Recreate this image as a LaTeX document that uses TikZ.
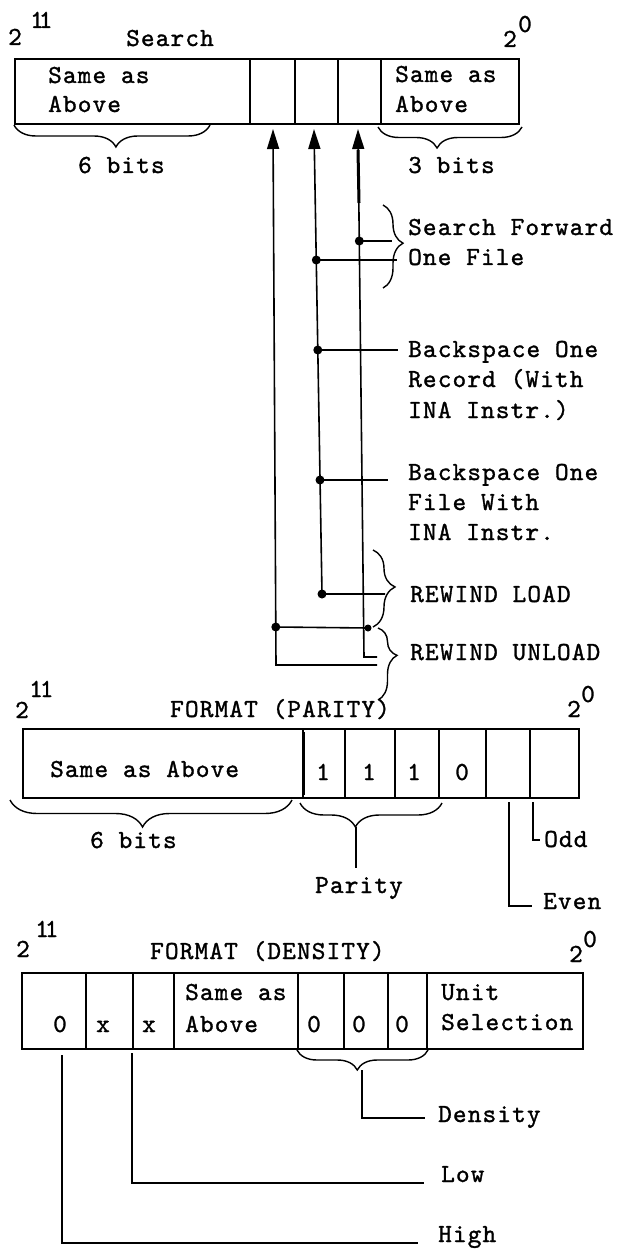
\documentclass[tikz,border=0pt]{standalone}
\usepackage{fontspec}
\newfontfamily\tw{lmmono10-regular.otf}[LetterSpace=4.4, RawFeature={embolden=1.2}]
\usetikzlibrary{decorations.pathreplacing,arrows.meta}
\begin{document}
\begin{tikzpicture}[x=1pt,y=-1pt,
  ln/.style={line width=1.6pt},
  cell/.style={draw, line width=1.6pt, inner sep=0pt, anchor=north west},
  txt/.style={inner sep=0pt, anchor=base west, font=\tw\fontsize{26}{30}\selectfont},
  ctxt/.style={txt, anchor=base},
  dot/.style={circle, fill, inner sep=0pt, minimum size=9pt},
  ubrace/.style 2 args={decorate, decoration={brace, mirror, amplitude=#1, aspect=#2}, line width=1.4pt},
  rbrace/.style 2 args={decorate, decoration={brace, amplitude=#1, aspect=#2}, line width=1.4pt},
  tip/.style={ln, {Triangle[length=20pt,width=12pt]}-}
]
\useasboundingbox (0,0) rectangle (632,1249);

% ---------------- Search register ----------------
\node[txt] (s2a) at (8,45) {2};
\node[txt] (s11) at (30,28) {1\kern-5pt1};
\node[txt] (stitle) at (126,46) {Search};
\node[txt] (s2b) at (503,47) {2};
\node[txt] (s0) at (518,32) {0};

\node[cell, minimum width=235pt, minimum height=65pt] (t1) at (14,58) {};
\node[cell, minimum width=45pt, minimum height=65pt] (t2) at (249,58) {};
\node[cell, minimum width=43pt, minimum height=65pt] (t3) at (294,58) {};
\node[cell, minimum width=43pt, minimum height=65pt] (t4) at (337,58) {};
\node[cell, minimum width=138pt, minimum height=65pt] (t5) at (380,58) {};

\node[txt] (ta1) at (48,83) {Same as};
\node[txt] (ta2) at (48,112) {Above};
\node[txt] (tb1) at (395,82) {Same as};
\node[txt] (tb2) at (395,112) {Above};

\draw[ubrace={22pt}{0.52}] (14,125) -- (210,125);
\draw[ubrace={21pt}{0.41}] (378,127) -- (522,127);
\node[txt] (six1) at (78,173) {6 bits};
\node[txt] (three) at (408,173) {3 bits};

% vertical connectors
\coordinate (l1t) at (273,129); \coordinate (l1b) at (276,665); \coordinate (l1e) at (377,665);
\coordinate (l2t) at (314,129); \coordinate (l2b) at (322,594); \coordinate (l2e) at (385,594);
\coordinate (l3t) at (358,129); \coordinate (l3b) at (364,657); \coordinate (l3e) at (377,657);
\coordinate (l3k1) at (358,150); \coordinate (l3k2) at (359,203);

\draw[tip] (l1t) -- (l1b) -- (l1e);
\draw[tip] (l2t) -- (l2b) -- (l2e);
\draw[tip] (l3t) -- (l3b) -- (l3e);
\draw[line width=3pt] (l3k1) -- (l3k2);

% taps
\node[dot] (d3a) at (359.3,241) {}; \coordinate (e3a) at (392,241);
\node[dot] (d2a) at (316.3,260) {}; \coordinate (e2a) at (397,260);
\node[dot] (d2b) at (317.8,350) {}; \coordinate (e2b) at (398,350);
\node[dot] (d2c) at (320,480) {};   \coordinate (e2c) at (388,480);
\node[dot] (d2d) at (l2b) {};
\node[dot] (d1a) at (275.8,627) {};
\node[dot, minimum size=7pt] (d3b) at (368,628) {};
\draw[ln] (d3a.center) -- (e3a);
\draw[ln] (d2a.center) -- (e2a);
\draw[ln] (d2b.center) -- (e2b);
\draw[ln] (d2c.center) -- (e2c);
\draw[ln] (d1a.center) -- (d3b.center);

% braces and labels on the right
\draw[rbrace={20pt}{0.46}] (383,205) -- (383,288);
\node[txt] (sf1) at (408,235) {Search Forward};
\node[txt] (sf2) at (408,265) {One File};

\node[txt] (br1) at (408,357) {Backspace One};
\node[txt] (br2) at (408,387) {Record (With};
\node[txt] (br3) at (408,418) {INA Instr.)};

\node[txt] (bf1) at (408,480) {Backspace One};
\node[txt] (bf2) at (408,510) {File With};
\node[txt] (bf3) at (408,540) {INA Instr.};

\draw[rbrace={22pt}{0.48}] (373,550) -- (373,627);
\node[txt] (rl) at (410,602) {REWIND LOAD};
\draw[rbrace={19pt}{0.38}] (378,628) -- (378,700);
\node[txt] (ru) at (410,660) {REWIND UNLOAD};

% ---------------- Format (parity) ----------------
\node[txt] (p2a) at (15,718) {2};
\node[txt] (p11) at (29,697) {1\kern-3pt1};
\node[txt] (ptitle) at (170,717) {FORMAT (PARITY)};
\node[txt] (p2b) at (567,717) {2};
\node[txt] (p0) at (581,702) {0};

\node[cell, minimum width=280pt, minimum height=69pt] (p1) at (22,728) {};
\node[cell, minimum width=42pt, minimum height=69pt] (p2) at (302,728) {};
\node[cell, minimum width=50pt, minimum height=69pt] (p3) at (344,728) {};
\node[cell, minimum width=44pt, minimum height=69pt] (p4) at (394,728) {};
\node[cell, minimum width=47pt, minimum height=69pt] (p5) at (438,728) {};
\node[cell, minimum width=44pt, minimum height=69pt] (p6) at (485,728) {};
\node[cell, minimum width=49pt, minimum height=69pt] (p7) at (529,728) {};
\draw[line width=3pt] ([yshift=-4pt]p1.north east) -- ([yshift=4pt]p1.south east);

\node[txt] (psame) at (50,777) {Same as Above};
\node[ctxt] (pb1) at (323,780) {1};
\node[ctxt] (pb2) at (369,780) {1};
\node[ctxt] (pb3) at (414,780) {1};
\node[ctxt] (pb4) at (462,780) {0};

\draw[ubrace={27pt}{0.47}] (10,800) -- (292,800);
\node[txt] (six2) at (90,848) {6 bits};
\draw[ubrace={24pt}{0.39}] (300,803) -- (442,803);
\coordinate (pbt) at (356,827); \coordinate (pbe) at (356,868);
\draw[ln] (pbt) -- (pbe);
\node[txt] (parity) at (315,893) {Parity};

\coordinate (odd0) at (533,802); \coordinate (odd1) at (533,840); \coordinate (odd2) at (540,840);
\draw[ln] (odd0) -- (odd1) -- (odd2);
\node[txt] (odd) at (544,847) {Odd};
\coordinate (ev0) at (509,802); \coordinate (ev1) at (509,906); \coordinate (ev2) at (532,906);
\draw[ln] (ev0) -- (ev1) -- (ev2);
\node[txt] (even) at (543,909) {Even};

% ---------------- Format (density) ----------------
\node[txt] (q2a) at (16,957) {2};
\node[txt] (q11) at (35,937) {1\kern-4pt1};
\node[txt] (qtitle) at (150,959) {FORMAT (DENSITY)};
\node[txt] (q2b) at (569,962) {2};
\node[txt] (q0) at (583,947) {0};

\node[cell, minimum width=64pt, minimum height=76pt] (q1) at (21,972) {};
\node[cell, minimum width=47pt, minimum height=76pt] (q2) at (85,972) {};
\node[cell, minimum width=41pt, minimum height=76pt] (q3) at (132,972) {};
\node[cell, minimum width=124pt, minimum height=76pt] (q4) at (173,972) {};
\node[cell, minimum width=46pt, minimum height=76pt] (q5) at (297,972) {};
\node[cell, minimum width=44pt, minimum height=76pt] (q6) at (343,972) {};
\node[cell, minimum width=39pt, minimum height=76pt] (q7) at (387,972) {};
\node[cell, minimum width=156pt, minimum height=76pt] (q8) at (426,972) {};

\node[ctxt] (qz) at (60,1032) {0};
\node[ctxt] (qx1) at (103,1032) {x};
\node[ctxt] (qx2) at (149,1032) {x};
\node[txt] (qs1) at (185,1000) {Same as};
\node[txt] (qs2) at (185,1032) {Above};
\node[ctxt] (qd1) at (314,1032) {0};
\node[ctxt] (qd2) at (359,1032) {0};
\node[ctxt] (qd3) at (402,1032) {0};
\node[txt] (qu1) at (441,1000) {Unit};
\node[txt] (qu2) at (441,1030) {Selection};

\draw[ubrace={20pt}{0.46}] (297,1050) -- (428,1050);
\coordinate (den0) at (362,1070); \coordinate (den1) at (362,1118); \coordinate (den2) at (425,1118);
\draw[ln] (den0) -- (den1) -- (den2);
\node[txt] (density) at (438,1122) {Density};

\coordinate (low0) at (132,1053); \coordinate (low1) at (132,1183); \coordinate (low2) at (424,1183);
\draw[ln] (low0) -- (low1) -- (low2);
\node[txt] (low) at (441,1182) {Low};

\coordinate (hi0) at (62,1055); \coordinate (hi1) at (62,1243); \coordinate (hi2) at (418,1243);
\draw[ln] (hi0) -- (hi1) -- (hi2);
\node[txt] (high) at (438,1242) {High};
\end{tikzpicture}
\end{document}
